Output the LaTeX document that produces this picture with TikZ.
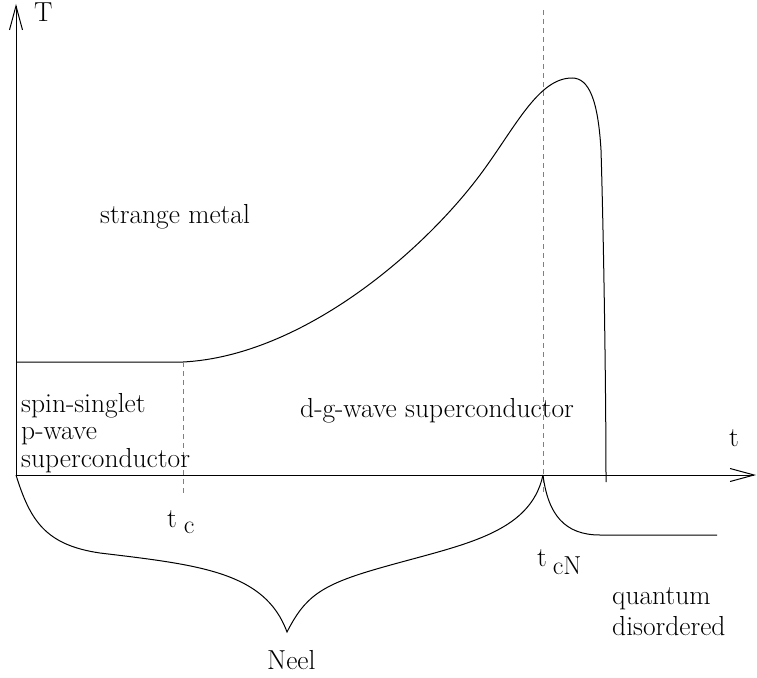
\documentclass[tikz,border=0pt]{standalone}
\usetikzlibrary{arrows.meta}
\begin{document}
\begin{tikzpicture}[x=1pt,y=-1pt,
  lbl/.style={inner sep=0pt, anchor=base west, font=\fontsize{27.5}{28}\selectfont},
  curve/.style={line width=1pt, black},
  guide/.style={line width=1pt, gray, dash pattern=on 5pt off 4pt},
  axis/.style={line width=1pt, -{Straight Barb[length=24pt,width=13pt,line width=1pt]}}]
\useasboundingbox (0,0) rectangle (757,677);
% axes
\coordinate (O) at (16,475);
\coordinate (Ttop) at (16,4);
\coordinate (tend) at (756,475);
\draw[axis] (O) -- (Ttop);
\draw[axis] (O) -- (tend);
% phase boundary
\coordinate (pL) at (16,362);
\coordinate (pc) at (183,362);
\coordinate (pA) at (480,175);
\coordinate (peak) at (572,78);
\coordinate (pC) at (601,150);
\coordinate (pE) at (606,482);
\draw[curve] (pL) -- (pc)
  .. controls (300,356) and (420,255) .. (pA)
  .. controls (515,128) and (538,78) .. (peak)
  .. controls (589,78) and (598,100) .. (pC)
  .. controls (604,250) and (606,400) .. (pE);
% dashed guides
\coordinate (gc1) at (183,362);
\coordinate (gc2) at (183,495);
\coordinate (gN1) at (543,10);
\coordinate (gN2) at (543,495);
\draw[guide] (gc1) -- (gc2);
\draw[guide] (gN1) -- (gN2);
% Neel curve
\coordinate (n0) at (16,475);
\coordinate (n1) at (100,553);
\coordinate (ncusp) at (287,632);
\coordinate (n2) at (380,568);
\coordinate (ncN) at (543,475);
\coordinate (q1) at (600,535);
\coordinate (q2) at (717,535);
\draw[curve] (n0) .. controls (30,520) and (45,545) .. (n1)
  .. controls (200,565) and (265,572) .. (ncusp)
  .. controls (305,597) and (320,585) .. (n2)
  .. controls (460,545) and (530,535) .. (ncN);
\draw[curve] (ncN) .. controls (548,515) and (565,535) .. (q1) -- (q2);
% labels
\node[lbl] (lT) at (34,22) {T};
\node[lbl] (lt) at (729,446) {t};
\node[lbl] (lsm) at (100,223) {strange metal};
\node[lbl] (lss) at (21,412) {spin-singlet};
\node[lbl] (lpw) at (21,439) {p-wave};
\node[lbl] (lsc) at (21,467) {superconductor};
\node[lbl] (ldg) at (300,417) {d-g-wave superconductor};
\node[lbl] (ltc) at (167,527) {t\hspace{7pt}\raisebox{-6pt}{\fontsize{26}{26}\selectfont c}};
\node[lbl] (ltcN) at (537,566) {t\hspace{6pt}\raisebox{-8pt}{\fontsize{26}{26}\selectfont cN}};
\node[lbl] (lq) at (612,604) {quantum};
\node[lbl] (ld) at (612,635) {disordered};
\node[lbl] (lN) at (267,669) {Neel};
\end{tikzpicture}
\end{document}
